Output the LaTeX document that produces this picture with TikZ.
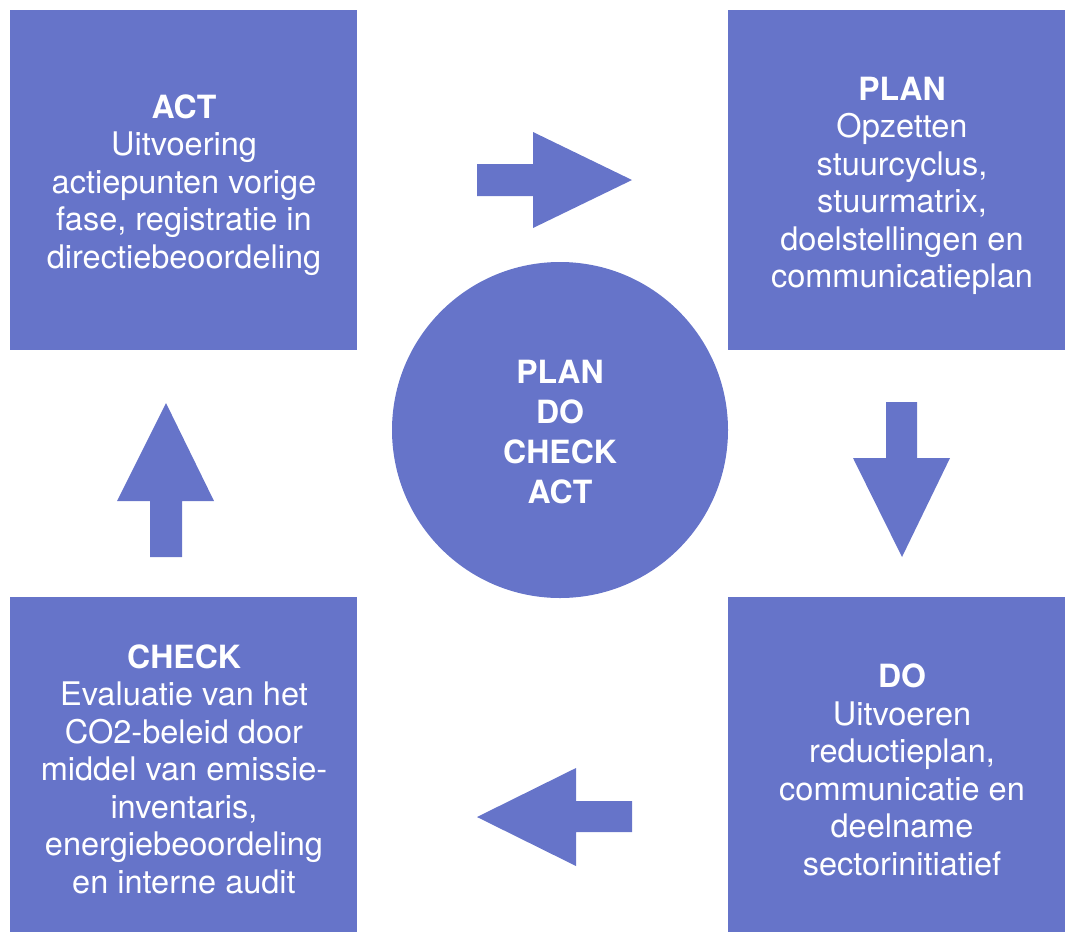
\documentclass[tikz,border=0pt]{standalone}
\usepackage{fontspec}
\setmainfont{TeX Gyre Heros}
\definecolor{pdca}{RGB}{102,116,201}
\begin{document}
\begin{tikzpicture}[x=1pt,y=-1pt,
  blockbox/.style={fill=pdca,draw=none,inner sep=0pt},
  boxtext/.style={text=white,align=center,inner sep=0pt,font=\fontsize{32.5}{37.5}\selectfont},
  bigarrow/.style={fill=pdca,draw=none}]
\useasboundingbox (0,0) rectangle (1065,932);
% boxes
\path[blockbox] (10,10) rectangle (357,350);
\path[blockbox] (728,10) rectangle (1065,350);
\path[blockbox] (728,597) rectangle (1065,932);
\path[blockbox] (10,597) rectangle (357,932);
\node[blockbox,circle,minimum size=336pt] (center) at (560,430) {};
% texts
\node[boxtext] (act) at (184,185) {{\bfseries\fontsize{32}{37.5}\selectfont ACT}\\Uitvoering\\actiepunten vorige\\fase, registratie in\\directiebeoordeling};
\node[boxtext] (plan) at (902,186) {{\bfseries\fontsize{32}{37.5}\selectfont PLAN}\\Opzetten\\stuurcyclus,\\stuurmatrix,\\doelstellingen en\\communicatieplan};
\node[boxtext] (do) at (902,770) {{\bfseries\fontsize{32}{37.5}\selectfont DO}\\Uitvoeren\\reductieplan,\\communicatie en\\deelname\\sectorinitiatief};
\node[boxtext] (check) at (184,769) {{\bfseries\fontsize{32}{37.5}\selectfont CHECK}\\Evaluatie van het\\CO2-beleid door\\middel van emissie-\\inventaris,\\energiebeoordeling\\en interne audit};
\node[boxtext,font=\bfseries\fontsize{32}{40}\selectfont] (ctext) at (560,432) {PLAN\\DO\\CHECK\\ACT};
% block arrows
\fill[bigarrow] (477,164) -- (533,164) -- (533,132) -- (632,180) -- (533,228) -- (533,196) -- (477,196) -- cycle;
\fill[bigarrow] (886,402) -- (917,402) -- (917,458) -- (950,458) -- (902,557) -- (853,458) -- (886,458) -- cycle;
\fill[bigarrow] (632,801) -- (576,801) -- (576,768) -- (477,817) -- (576,866) -- (576,832) -- (632,832) -- cycle;
\fill[bigarrow] (182,557) -- (150,557) -- (150,501) -- (117,501) -- (166,403) -- (214,501) -- (182,501) -- cycle;
\end{tikzpicture}
\end{document}
